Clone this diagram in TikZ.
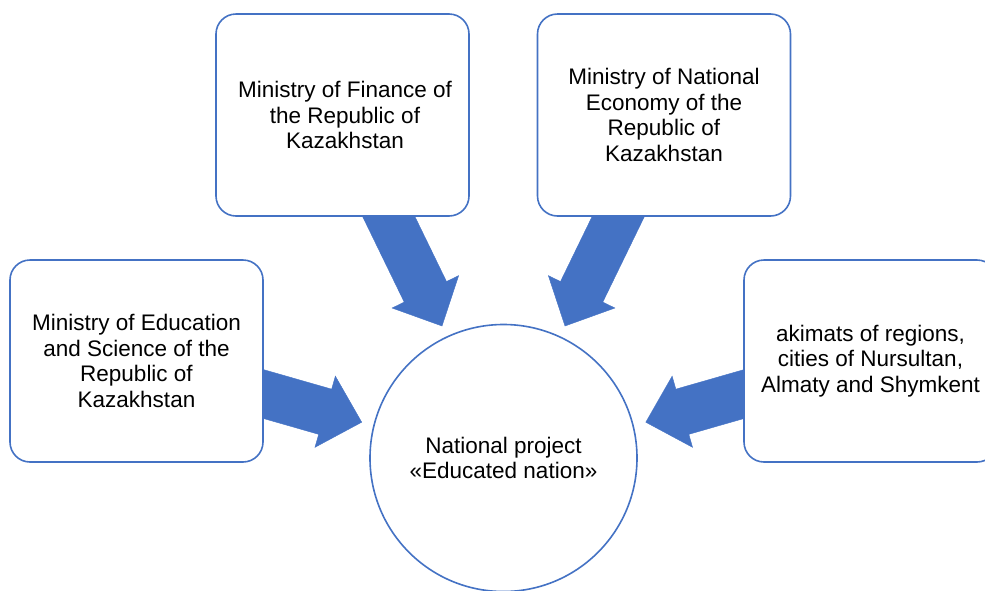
\documentclass[tikz,border=0pt]{standalone}
\usepackage{fontspec}
\setmainfont{Liberation Sans}
\definecolor{offblue}{RGB}{68,114,196}
\begin{document}
\begin{tikzpicture}[x=1pt,y=-1pt,
  box/.style={draw=offblue,line width=1.6pt,fill=white,rounded corners=20pt,
    minimum width=253pt,minimum height=202pt,inner sep=0pt,align=center,
    font=\fontsize{22.5}{25.5}\selectfont},
  hub/.style={draw=offblue,line width=1.6pt,fill=white,circle,minimum size=267pt,
    inner sep=0pt,align=center,font=\fontsize{22.5}{25.5}\selectfont},
  blockarrow/.style={fill=offblue,draw=offblue,line width=0.4pt,line join=miter}]
\useasboundingbox (0,0) rectangle (985,590);
\clip (0,0) rectangle (985,590);
% block arrows (behind boxes)
\draw[blockarrow] (442,326) -- (458.65,275.63) -- (446.51,281.54) -- (397.50,180.79)
  -- (355.22,201.35) -- (404.23,302.10) -- (392.09,308.01) -- cycle;
\draw[blockarrow] (565,326) -- (548.35,275.63) -- (560.49,281.54) -- (609.50,180.79)
  -- (651.78,201.35) -- (602.77,302.10) -- (614.91,308.01) -- cycle;
\draw[blockarrow] (361.7,422.2) -- (314.97,447.30) -- (318.69,434.32) -- (230.25,408.96)
  -- (243.21,363.78) -- (331.65,389.14) -- (335.37,376.16) -- cycle;
\draw[blockarrow] (645.8,422.2) -- (692.53,447.30) -- (688.81,434.32) -- (777.25,408.96)
  -- (764.29,363.78) -- (675.85,389.14) -- (672.13,376.16) -- cycle;
% boxes
\node[box] (fin) at (342.5,115) {\hspace{5pt}Ministry of Finance of\\\hspace{5pt}the Republic of\\\hspace{5pt}Kazakhstan};
\node[box] (eco) at (664,115) {Ministry of National\\Economy of the\\Republic of\\Kazakhstan};
\node[box] (edu) at (136.5,361) {Ministry of Education\\and Science of the\\Republic of\\Kazakhstan};
\node[box] (aki) at (870.5,361) {akimats of regions,\\cities of Nursultan,\\Almaty and Shymkent};
\node[hub] (nat) at (503.5,458) {National project\\«Educated nation»};
\end{tikzpicture}
\end{document}
